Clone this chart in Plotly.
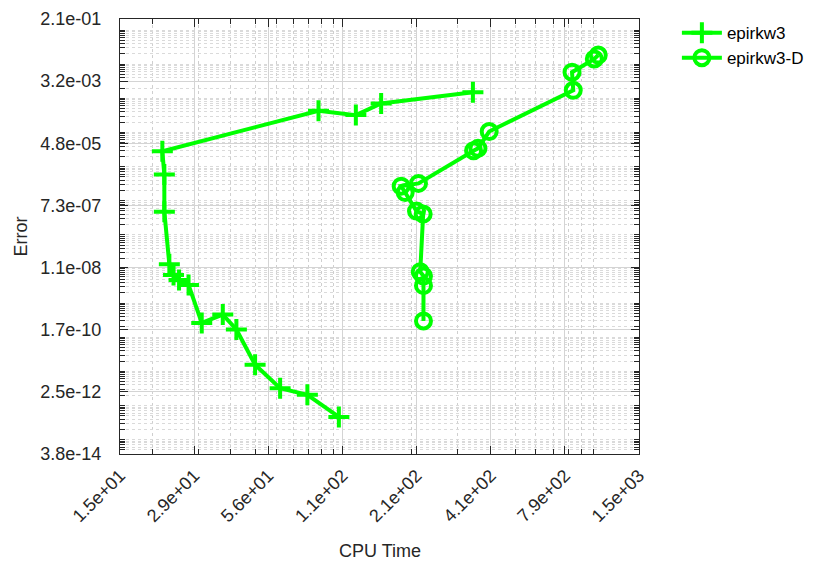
import numpy as np
import plotly.graph_objects as go

# ---- data ----
epirkw3_cpu = [343.6, 152.2, 121.6, 87.3, 21.84, 22.23, 22.23, 23.24, 24.12, 25.33,
               27.56, 30.98, 37.34, 42.13, 49.74, 62.1, 79.1, 104.6]
epirkw3_err = [1.49e-3, 7.02e-4, 3.21e-4, 4.31e-4, 2.79e-5, 5.86e-6, 4.76e-7, 1.37e-8,
               6.64e-9, 4.75e-9, 3.40e-9, 2.62e-10, 4.60e-10, 1.69e-10, 1.56e-11,
               3.21e-12, 2.06e-12, 4.62e-13]

epirkw3d_cpu = [1045, 1009, 828, 837, 397, 359.4, 345.6, 212, 181.8, 188.4, 208.3,
                221.0, 215.3, 221.6, 221.6, 221.6]
epirkw3d_err = [1.85e-2, 1.42e-2, 5.82e-3, 1.71e-3, 1.06e-4, 3.41e-5, 2.90e-5, 3.21e-6,
                2.67e-6, 1.73e-6, 4.95e-7, 4.06e-7, 8.28e-9, 6.21e-9, 3.25e-9, 3.00e-10]

x_tick_labels = ["1.5e+01", "2.9e+01", "5.6e+01", "1.1e+02", "2.1e+02", "4.1e+02",
                 "7.9e+02", "1.5e+03"]
y_tick_labels = ["3.8e-14", "2.5e-12", "1.7e-10", "1.1e-08", "7.3e-07", "4.8e-05",
                 "3.2e-03", "2.1e-01"]

# ---- axis geometry ----
x_lo, x_hi = np.log10(15.0), np.log10(1500.0)
y_lo, y_hi = np.log10(3.8e-14), np.log10(2.1e-01)
x_tickvals = list(np.logspace(x_lo, x_hi, len(x_tick_labels)))
y_tickvals = list(np.logspace(y_lo, y_hi, len(y_tick_labels)))

def minor_vals(lo, hi):
    vals = []
    for d in range(int(np.floor(lo)) - 1, int(np.ceil(hi)) + 1):
        for k in range(1, 10):
            v = k * 10.0 ** d
            if 10 ** lo <= v <= 10 ** hi:
                vals.append(v)
    return vals

x_minor = minor_vals(x_lo, x_hi)
y_minor = minor_vals(y_lo, y_hi)

GREEN = "#00FF00"
FONT = "Liberation Sans, Arial, sans-serif"
TXT = "#262626"

fig = go.Figure()
fig.add_trace(go.Scatter(
    x=epirkw3_cpu, y=epirkw3_err, name="epirkw3", mode="lines+markers",
    line=dict(color=GREEN, width=4),
    marker=dict(symbol="cross-thin", size=15, color=GREEN,
                line=dict(color=GREEN, width=4)),
))
fig.add_trace(go.Scatter(
    x=epirkw3d_cpu, y=epirkw3d_err, name="epirkw3-D", mode="lines+markers",
    line=dict(color=GREEN, width=4),
    marker=dict(symbol="circle-open", size=15, color=GREEN,
                line=dict(color=GREEN, width=4)),
))

axis_common = dict(
    type="log", showline=True, linecolor=TXT, linewidth=1, mirror="ticks",
    ticks="inside", ticklen=8, tickcolor=TXT, tickwidth=1,
    showgrid=True, gridcolor="#d4d4d4", gridwidth=1,
    zeroline=False, automargin=False,
    tickfont=dict(family=FONT, size=18, color=TXT),
)

fig.update_xaxes(
    **axis_common,
    range=[x_lo, x_hi],
    tickmode="array", tickvals=x_tickvals, ticktext=x_tick_labels,
    tickangle=-45, ticklabelstandoff=3,
    minor=dict(tickmode="array", tickvals=x_minor, ticks="inside", ticklen=5,
               tickcolor=TXT, showgrid=True, gridcolor="#cfcfcf",
               griddash="dot", gridwidth=1),
)
fig.update_yaxes(
    **axis_common,
    range=[y_lo, y_hi],
    tickmode="array", tickvals=y_tickvals, ticktext=y_tick_labels,
    ticklabelstandoff=14,
    minor=dict(tickmode="array", tickvals=y_minor, ticks="inside", ticklen=5,
               tickcolor=TXT, showgrid=True, gridcolor="#dadada",
               griddash="dot", gridwidth=1),
)

fig.add_annotation(text="CPU Time", xref="paper", yref="paper", x=0.5, y=0,
                   yshift=-97, showarrow=False, xanchor="center", yanchor="middle",
                   font=dict(family=FONT, size=18, color=TXT))
fig.add_annotation(text="Error", xref="paper", yref="paper", x=0, y=0.5,
                   xshift=-100, textangle=-90, showarrow=False,
                   xanchor="center", yanchor="middle",
                   font=dict(family=FONT, size=18, color=TXT))

fig.update_layout(
    width=818, height=571,
    margin=dict(l=112, r=187, t=7, b=125),
    plot_bgcolor="white", paper_bgcolor="white",
    font=dict(family=FONT, size=14, color=TXT),
    legend=dict(x=1.073, y=1.009, xanchor="left", yanchor="top",
                bgcolor="rgba(0,0,0,0)", borderwidth=0,
                font=dict(family=FONT, size=17, color="black"),
                itemwidth=40, tracegroupgap=0),
    showlegend=True,
)

fig.write_html("out.html")
